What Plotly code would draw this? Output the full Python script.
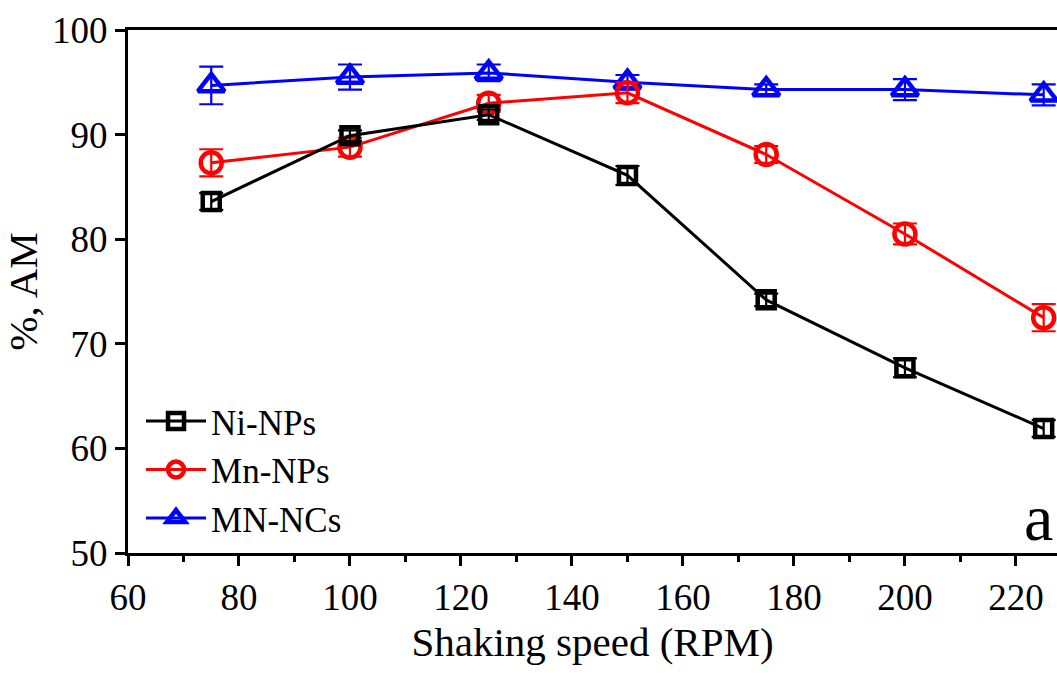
import plotly.graph_objects as go

rpm = [75, 100, 125, 150, 175, 200, 225]

ni_np = [83.6, 89.9, 91.9, 86.1, 74.2, 67.7, 61.9]
ni_err = [0.8, 0.5, 0.5, 0.9, 0.6, 0.9, 0.8]

mn_np = [87.3, 88.8, 93.0, 94.0, 88.1, 80.5, 72.5]
mn_err = [1.3, 0.9, 0.8, 1.0, 0.8, 1.0, 1.3]

mn_nc = [94.7, 95.5, 95.9, 95.0, 94.3, 94.3, 93.8]
mn_nc_err = [1.8, 1.2, 0.8, 0.7, 0.5, 1.0, 1.0]

FONT = "Liberation Serif"

fig = go.Figure()

series = [
    ("MN-NCs", mn_nc, mn_nc_err, "blue", "triangle-up-open", 23),
    ("Mn-NPs", mn_np, mn_err, "red", "circle-open", 21),
    ("Ni-NPs", ni_np, ni_err, "black", "square-open", 17),
]

for name, ys, errs, color, sym, sz in series:
    fig.add_trace(go.Scatter(
        x=rpm, y=ys, name=name, mode="lines+markers",
        line=dict(color=color, width=3),
        marker=dict(symbol=sym, size=sz, color=color, line=dict(color=color, width=4.5)),
        error_y=dict(type="data", array=errs, visible=True, color=color, thickness=2.2, width=12),
        cliponaxis=False,
    ))

fig.add_annotation(x=1.0, y=0.0, xref="paper", yref="paper", xanchor="right", yanchor="bottom",
                   text="a", showarrow=False, font=dict(family=FONT, size=66, color="black"),
                   xshift=-2, yshift=-3)

fig.update_layout(
    width=1057, height=673,
    margin=dict(l=128, r=0, t=30, b=120),
    paper_bgcolor="white", plot_bgcolor="white",
    font=dict(family=FONT, size=37, color="black"),
    showlegend=True,
    legend=dict(x=0.014, y=0.01, xanchor="left", yanchor="bottom", bgcolor="rgba(0,0,0,0)",
                font=dict(family=FONT, size=35), tracegroupgap=0, itemwidth=60,
                traceorder="reversed"),
)

fig.update_xaxes(
    range=[60, 227.4], tickmode="linear", tick0=60, dtick=20,
    showline=True, linecolor="black", linewidth=3, mirror=True,
    ticks="outside", ticklen=10, tickwidth=2.5, tickcolor="black",
    minor=dict(ticks="outside", ticklen=6, tickwidth=2.5, dtick=10, tick0=60, tickcolor="black"),
    showgrid=False, zeroline=False,
    tickfont=dict(family=FONT, size=37),
    title=dict(text="Shaking speed (RPM)", font=dict(family=FONT, size=41), standoff=10),
)

fig.update_yaxes(
    range=[50, 100], tickmode="linear", tick0=50, dtick=10,
    showline=True, linecolor="black", linewidth=3,
    ticks="outside", ticklen=10, tickwidth=2.5, tickcolor="black",
    showgrid=False, zeroline=False,
    tickfont=dict(family=FONT, size=37),
    title=dict(text="%, AM", font=dict(family=FONT, size=41), standoff=12),
)

fig.write_html("out.html")
